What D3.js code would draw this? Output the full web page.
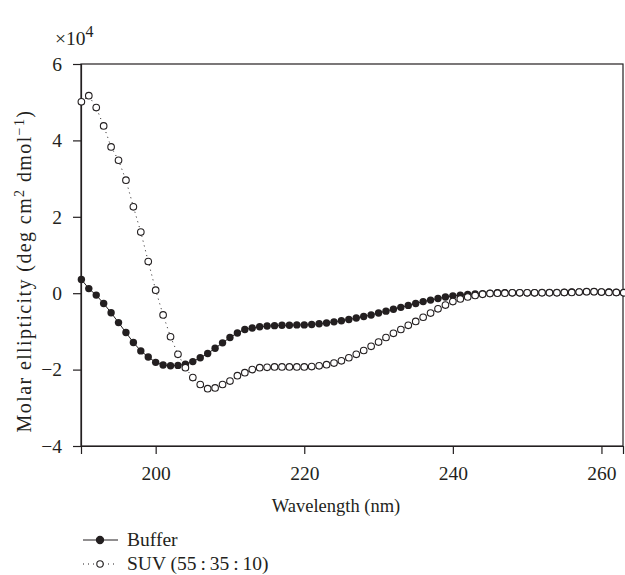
<!DOCTYPE html>
<html>
  <head>
    <script src="https://d3js.org/d3.v7.min.js"></script>
    <style>
      body { margin: 0; background: white; }
      text { font-family: "Liberation Serif", "Times New Roman", "DejaVu Serif", serif; fill: #231f20; }
    </style>
  </head>
  <body>
    <script>
      const wavelength = d3.range(190, 264);
      const buffer = [0.36, 0.12, -0.05, -0.27, -0.51, -0.77, -1.03, -1.29, -1.51, -1.67,
        -1.81, -1.88, -1.90, -1.89, -1.86, -1.79, -1.69, -1.58, -1.44, -1.30,
        -1.16, -1.04, -0.95, -0.91, -0.88, -0.86, -0.85, -0.84, -0.84, -0.83,
        -0.83, -0.82, -0.80, -0.78, -0.75, -0.72, -0.69, -0.65, -0.61, -0.57,
        -0.52, -0.47, -0.42, -0.37, -0.32, -0.27, -0.22, -0.18, -0.14, -0.10,
        -0.07, -0.05, -0.03, -0.02, -0.01, 0.00, 0.01, 0.01, 0.01, 0.01,
        0.01, 0.01, 0.02, 0.02, 0.02, 0.02, 0.03, 0.03, 0.04, 0.04,
        0.03, 0.03, 0.02, 0.02];
      const suv = [5.01, 5.17, 4.86, 4.38, 3.83, 3.48, 2.96, 2.26, 1.60, 0.83,
        0.08, -0.57, -1.14, -1.60, -1.95, -2.21, -2.39, -2.50, -2.48, -2.39,
        -2.30, -2.16, -2.08, -2.00, -1.95, -1.94, -1.93, -1.93, -1.93, -1.93,
        -1.93, -1.92, -1.90, -1.87, -1.83, -1.77, -1.69, -1.60, -1.50, -1.39,
        -1.28, -1.16, -1.05, -0.95, -0.84, -0.74, -0.63, -0.52, -0.41, -0.31,
        -0.22, -0.15, -0.10, -0.06, -0.03, -0.01, 0.00, 0.00, 0.01, 0.01,
        0.01, 0.01, 0.01, 0.01, 0.01, 0.02, 0.02, 0.03, 0.04, 0.04,
        0.03, 0.02, 0.02, 0.01];
      const xTicks = [200, 220, 240, 260];
      const yTicks = [-4, -2, 0, 2, 4, 6];
      const seriesNames = ['Buffer', 'SUV (55\u2009:\u200935\u2009:\u200910)'];

      const w = 625;
      const h = 575;
      const mLeft = 81, mRight = 623, mTop = 64, mBottom = 446;

      const x = d3.scaleLinear().domain([189.95, 262.9]).range([mLeft, mRight]);
      const y = d3.scaleLinear().domain([-4, 6]).range([mBottom, mTop]);

      const svg = d3.select('body').append('svg')
        .attr('width', w)
        .attr('height', h);

      // frame
      svg.append('rect')
        .attr('x', mLeft).attr('y', mTop)
        .attr('width', mRight - mLeft).attr('height', mBottom - mTop)
        .attr('fill', 'none').attr('stroke', '#231f20').attr('stroke-width', 1.2);

      const xAxis = svg.append('g')
        .attr('transform', `translate(0,${mBottom})`)
        .call(d3.axisBottom(x).tickValues(xTicks).tickSize(8).tickPadding(12).tickFormat(d3.format('d')));
      const yAxis = svg.append('g')
        .attr('transform', `translate(${mLeft},0)`)
        .call(d3.axisLeft(y).tickValues(yTicks).tickSize(8).tickPadding(11)
          .tickFormat(d => d < 0 ? '\u2212' + Math.abs(d) : d));
      [xAxis, yAxis].forEach(g => {
        g.select('.domain').attr('stroke', '#231f20').attr('stroke-width', 1.2);
        g.selectAll('.tick line').attr('stroke', '#231f20').attr('stroke-width', 1.2);
        g.selectAll('.tick text').style('font-size', '19.5px').attr('fill', '#231f20')
          .style('font-family', '"Liberation Serif", "Times New Roman", serif');
      });

      svg.append('text')
        .attr('x', 55).attr('y', 45)
        .style('font-size', '19.5px')
        .html('\u00d710<tspan dy="-8" style="font-size:16px">4</tspan>');

      svg.append('text')
        .attr('x', 336).attr('y', 512)
        .attr('text-anchor', 'middle')
        .style('font-size', '18.5px')
        .text('Wavelength (nm)');

      svg.append('text')
        .attr('transform', 'translate(31,271) rotate(-90)')
        .attr('text-anchor', 'middle')
        .style('font-size', '20px')
        .style('letter-spacing', '1.4px')
        .html('Molar ellipticity (deg cm<tspan dy="-7" style="font-size:14px">2</tspan><tspan dy="7"> dmol</tspan><tspan dy="-7" style="font-size:14px">\u22121</tspan><tspan dy="7">)</tspan>');

      const pts = wavelength.map((d, i) => ({ w: d, b: buffer[i], s: suv[i] }));

      const line = key => d3.line().x(d => x(d.w)).y(d => y(d[key]));

      svg.append('path').datum(pts)
        .attr('d', line('b'))
        .attr('fill', 'none').attr('stroke', '#231f20').attr('stroke-width', 1);
      svg.append('path').datum(pts)
        .attr('d', line('s'))
        .attr('fill', 'none').attr('stroke', '#231f20').attr('stroke-width', 1)
        .attr('stroke-dasharray', '1,4');

      svg.append('g').selectAll('circle')
        .data(pts).enter().append('circle')
        .attr('cx', d => x(d.w)).attr('cy', d => y(d.b))
        .attr('r', 3.7).attr('fill', '#231f20');
      svg.append('g').selectAll('circle')
        .data(pts).enter().append('circle')
        .attr('cx', d => x(d.w)).attr('cy', d => y(d.s))
        .attr('r', 3.3).attr('fill', 'white').attr('stroke', '#231f20').attr('stroke-width', 1.1);

      // legend
      const legend = svg.append('g');
      const rows = [{ name: seriesNames[0], y: 540, open: false }, { name: seriesNames[1], y: 564, open: true }];
      rows.forEach(r => {
        legend.append('line')
          .attr('x1', 83).attr('x2', 118).attr('y1', r.y).attr('y2', r.y)
          .attr('stroke', '#231f20').attr('stroke-width', 1)
          .attr('stroke-dasharray', r.open ? '1,4' : null);
        legend.append('circle')
          .attr('cx', 100).attr('cy', r.y).attr('r', r.open ? 3.2 : 3.6)
          .attr('fill', r.open ? 'white' : '#231f20')
          .attr('stroke', '#231f20').attr('stroke-width', 1.1);
        legend.append('text')
          .attr('x', 127).attr('y', r.y + 6)
          .style('font-size', '19.5px')
          .text(r.name);
      });
    </script>
  </body>
</html>
